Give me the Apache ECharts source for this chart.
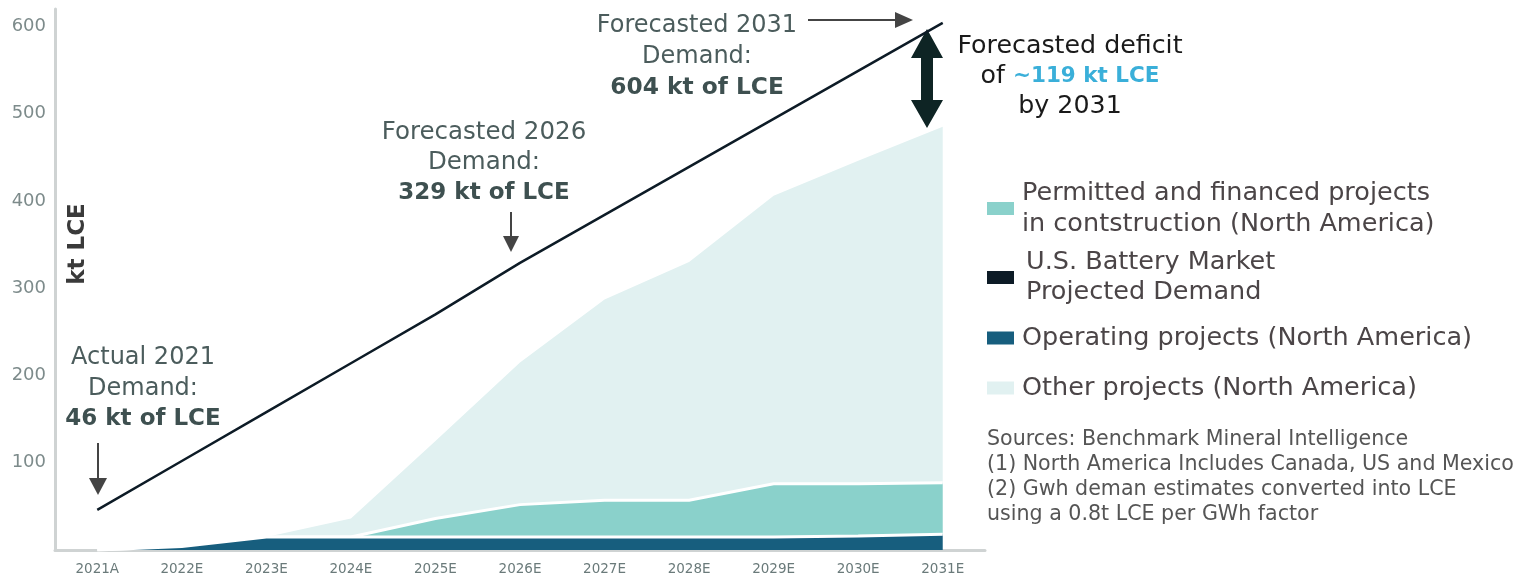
<!DOCTYPE html>
<html>
<head>
<meta charset="utf-8">
<script src="https://cdn.jsdelivr.net/npm/echarts@6/dist/echarts.min.js"></script>
<style>
html,body{margin:0;padding:0;background:#fff;}
#chart{width:1532px;height:580px;}
</style>
</head>
<body>
<div id="chart"></div>
<script>
// ---- data ----
const categories = ['2021A','2022E','2023E','2024E','2025E','2026E','2027E','2028E','2029E','2030E','2031E'];
const operating  = [0, 4, 15, 15, 15, 15, 15, 15, 15, 16, 18];
const permitted  = [0, 0, 0, 0, 21, 37, 42, 42, 61, 60, 59];
const other      = [0, 0, 0, 21, 89, 163, 230, 273, 330, 370, 408];
const demand     = [46, 102, 158, 214, 270, 329, 384, 439, 494, 549, 604];
const yTicks     = [100, 200, 300, 400, 500, 600];

const NAME_PERM = 'Permitted and financed projects\nin contstruction (North America)';
const NAME_US   = 'U.S. Battery Market\nProjected Demand';
const NAME_OP   = 'Operating projects (North America)';
const NAME_OTH  = 'Other projects (North America)';

const C_PERM = '#8AD1CB', C_US = '#0D1B26', C_OP = '#175E7E', C_OTH = '#E1F1F1';
const FONT = '"DejaVu Sans", sans-serif';
const ANN = '#4b5c5c';

function legendAt(name, color, top, lh, padLeft) {
  return {
    left: 987, top: top, orient: 'vertical', icon: 'rect', padding: 0,
    itemWidth: 27, itemHeight: 13, selectedMode: false,
    data: [{name: name, itemStyle: {color: color}}],
    textStyle: {fontFamily: FONT, fontSize: 25.5, color: '#4b4547', lineHeight: lh, padding: [3, 0, 0, padLeft]}
  };
}

const chart = echarts.init(document.getElementById('chart'));
chart.setOption({
  animation: false,
  textStyle: {fontFamily: FONT},
  grid: {left: 55, right: 547, top: 9, bottom: 30, containLabel: false},
  xAxis: {
    type: 'category', data: categories, boundaryGap: true,
    axisLine: {lineStyle: {color: '#cfd3d3', width: 3}},
    axisTick: {show: false},
    axisLabel: {color: '#6a7a7a', fontSize: 13.5, fontFamily: FONT, margin: 12}
  },
  yAxis: {
    type: 'value', min: 0, max: 620, interval: 20,
    axisLine: {show: true, lineStyle: {color: '#cfd3d3', width: 3}},
    axisTick: {show: false},
    splitLine: {show: false},
    axisLabel: {
      color: '#7d8b8b', fontSize: 18, fontFamily: FONT, margin: 9,
      formatter: v => yTicks.indexOf(v) >= 0 ? String(v) : ''
    }
  },
  legend: [
    legendAt(NAME_PERM, C_PERM, 176, 31, 3),
    legendAt(NAME_US, C_US, 245.5, 30.5, 7),
    legendAt(NAME_OP, C_OP, 321, 31, 3),
    legendAt(NAME_OTH, C_OTH, 371, 31, 3)
  ],
  series: [
    {
      name: NAME_OP, type: 'line', stack: 'supply', data: operating, z: 4,
      symbol: 'none', color: C_OP,
      lineStyle: {color: '#ffffff', width: 3},
      areaStyle: {color: C_OP, opacity: 1}
    },
    {
      name: NAME_PERM, type: 'line', stack: 'supply', data: permitted, z: 3,
      symbol: 'none', color: C_PERM,
      lineStyle: {color: '#ffffff', width: 3},
      areaStyle: {color: C_PERM, opacity: 1}
    },
    {
      name: NAME_OTH, type: 'line', stack: 'supply', data: other, z: 2,
      symbol: 'none', color: C_OTH,
      lineStyle: {width: 0},
      areaStyle: {color: C_OTH, opacity: 1}
    },
    {
      name: NAME_US, type: 'line', data: demand, z: 6,
      symbol: 'none', color: C_US,
      lineStyle: {color: C_US, width: 2.5}
    }
  ],
  graphic: [
    // y axis name
    {type: 'text', x: 78, y: 244, rotation: Math.PI / 2,
     style: {text: 'kt LCE', font: 'bold 23px ' + FONT, fill: '#3a3a3a', align: 'center', verticalAlign: 'middle'}},
    // annotations
    {type: 'text', x: 143, y: 343,
     style: {text: 'Actual 2021\nDemand:\n{b|46 kt of LCE}', fontFamily: FONT, fontSize: 24, lineHeight: 30.5,
       fill: ANN, align: 'center', rich: {b: {fontWeight: 'bold', fontSize: 23, lineHeight: 30.5, fill: '#3e5050', fontFamily: FONT}}}},
    {type: 'text', x: 484, y: 117,
     style: {text: 'Forecasted 2026\nDemand:\n{b|329 kt of LCE}', fontFamily: FONT, fontSize: 24.5, lineHeight: 30.5,
       fill: ANN, align: 'center', rich: {b: {fontWeight: 'bold', fontSize: 23, lineHeight: 30.5, fill: '#3e5050', fontFamily: FONT}}}},
    {type: 'text', x: 697, y: 10,
     style: {text: 'Forecasted 2031\nDemand:\n{b|604 kt of LCE}', fontFamily: FONT, fontSize: 24, lineHeight: 31,
       fill: ANN, align: 'center', rich: {b: {fontWeight: 'bold', fontSize: 23.3, lineHeight: 31, fill: '#3e5050', fontFamily: FONT}}}},
    {type: 'text', x: 1070, y: 31,
     style: {text: 'Forecasted deficit\nof {b|~119 kt LCE}\nby 2031', fontFamily: FONT, fontSize: 25.3, lineHeight: 30,
       fill: '#1a1a1a', align: 'center', rich: {b: {fontWeight: 'bold', fontSize: 21.5, lineHeight: 30, fill: '#3AAFD9', fontFamily: FONT}}}},
    // arrows
    {type: 'line', shape: {x1: 98, y1: 443, x2: 98, y2: 479}, style: {stroke: '#444', lineWidth: 2}},
    {type: 'polygon', shape: {points: [[89, 478], [107, 478], [98, 495]]}, style: {fill: '#444'}},
    {type: 'line', shape: {x1: 511, y1: 212, x2: 511, y2: 237}, style: {stroke: '#444', lineWidth: 2}},
    {type: 'polygon', shape: {points: [[503, 236], [519, 236], [511, 252]]}, style: {fill: '#444'}},
    {type: 'line', shape: {x1: 808, y1: 20, x2: 897, y2: 20}, style: {stroke: '#444', lineWidth: 2}},
    {type: 'polygon', shape: {points: [[895, 12], [895, 28], [913, 20]]}, style: {fill: '#444'}},
    // double arrow (deficit)
    {type: 'polygon', shape: {points: [
      [927, 29], [943, 58], [933, 58], [933, 100], [943, 100], [927, 128],
      [911, 100], [921, 100], [921, 58], [911, 58]
    ]}, style: {fill: '#0E2424'}},
    // sources
    {type: 'text', x: 987, y: 427,
     style: {text: 'Sources: Benchmark Mineral Intelligence\n(1) North America Includes Canada, US and Mexico\n(2) Gwh deman estimates converted into LCE\nusing a 0.8t LCE per GWh factor',
       fontFamily: FONT, fontSize: 20.6, lineHeight: 25, fill: '#555555'}}
  ]
});
</script>
</body>
</html>
